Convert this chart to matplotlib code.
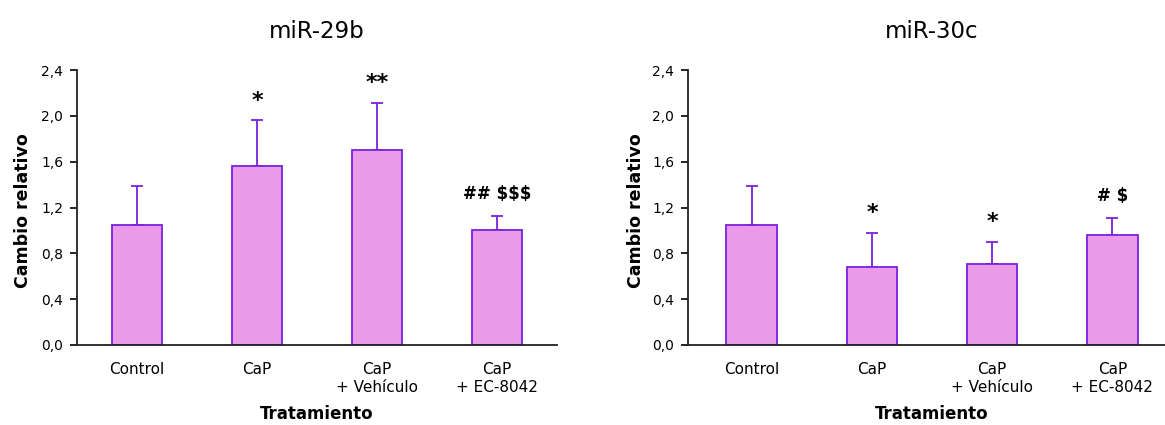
import matplotlib
matplotlib.use("Agg")
import matplotlib.pyplot as plt

plt.rcParams['font.family'] = ['DejaVu Sans']

categories = ["Control", "CaP", "CaP\n+ Vehículo", "CaP\n+ EC-8042"]

mir29b_mean = [1.05, 1.56, 1.70, 1.00]
mir29b_err = [0.34, 0.40, 0.41, 0.13]
mir29b_marks = ["", "*", "**", "## $$$"]

mir30c_mean = [1.05, 0.68, 0.71, 0.96]
mir30c_err = [0.34, 0.30, 0.19, 0.15]
mir30c_marks = ["", "*", "*", "# $"]

yticks = [0.0, 0.4, 0.8, 1.2, 1.6, 2.0, 2.4]
ytick_labels = ["0,0", "0,4", "0,8", "1,2", "1,6", "2,0", "2,4"]

bar_fill = "#EA9AE8"
bar_edge = "#7A22E0"

W, H = 1165, 425
fig = plt.figure(figsize=(W / 100, H / 100), dpi=100)

panels = [
    ("miR-29b", mir29b_mean, mir29b_err, mir29b_marks, (77, 557), (-0.5, 3.5), -0.094),
    ("miR-30c", mir30c_mean, mir30c_err, mir30c_marks, (688, 1176), (-0.53, 3.53), -0.088),
]

for title, means, errs, marks, (px0, px1), xlim, ylab_x in panels:
    ax = fig.add_axes([px0 / W, 1 - 345 / H, (px1 - px0) / W, 275 / H])
    x = list(range(len(categories)))
    ax.bar(x, means, width=0.42, color=bar_fill, edgecolor=bar_edge,
           linewidth=1.3, zorder=2)
    ax.errorbar(x, means, yerr=[[0] * len(errs), errs], fmt="none",
                ecolor=bar_edge, elinewidth=1.3, capsize=4.5, capthick=1.3,
                zorder=1)
    for xi, m, e, s in zip(x, means, errs, marks):
        if not s:
            continue
        if set(s) == {"*"}:
            size, off = 16, 10
        else:
            size, off = 12, 12
        ax.annotate(s, xy=(xi, m + e), xytext=(0, off), textcoords="offset points",
                    ha="center", va="baseline", fontsize=size, fontweight="bold")
    ax.set_xlim(*xlim)
    ax.set_ylim(0, 2.4)
    ax.set_yticks(yticks)
    ax.set_yticklabels(ytick_labels)
    ax.set_xticks(x)
    ax.set_xticklabels(categories, linespacing=1.25)
    ax.tick_params(axis="x", length=0, pad=12, labelsize=11)
    ax.tick_params(axis="y", direction="out", length=5, width=1.2, labelsize=10,
                   pad=5)
    for side in ("top", "right"):
        ax.spines[side].set_visible(False)
    for side in ("left", "bottom"):
        ax.spines[side].set_linewidth(1.3)
        ax.spines[side].set_color("#222222")
    ax.set_title(title, fontsize=16.5, pad=23)
    ax.set_ylabel("Cambio relativo", fontsize=12.5, fontweight="bold")
    ax.yaxis.set_label_coords(ylab_x, 0.49)
    ax.set_xlabel("Tratamiento", fontsize=12, fontweight="bold")
    ax.xaxis.set_label_coords(0.5, -0.218)

fig.savefig("out.png", dpi=100)
